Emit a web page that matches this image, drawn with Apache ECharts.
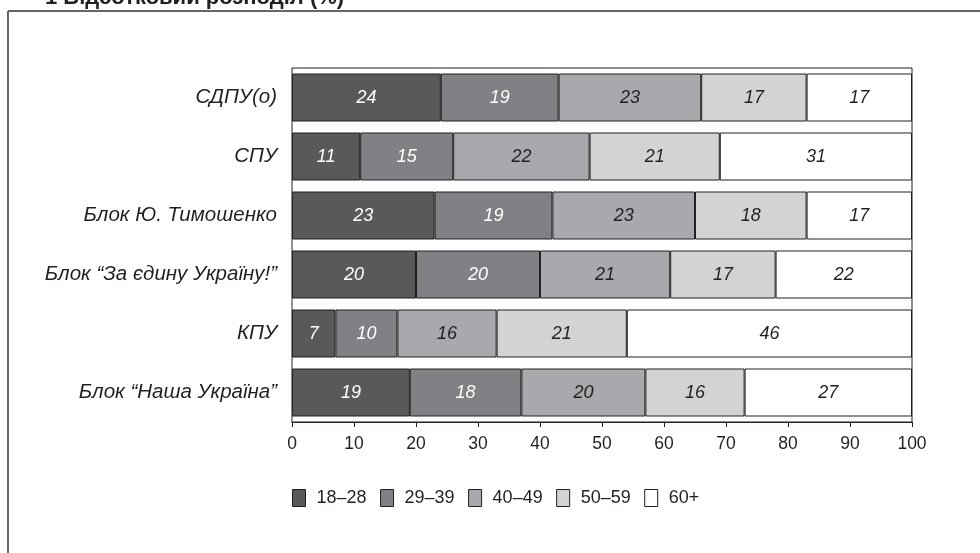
<!DOCTYPE html>
<html><head><meta charset="utf-8">
<script src="https://cdn.jsdelivr.net/npm/echarts@6/dist/echarts.min.js"></script>
<style>html,body{margin:0;padding:0;background:#fff}#c{width:980px;height:553px}</style>
</head><body><div id="c"></div>
<script>
var categories = ['СДПУ(о)', 'СПУ', 'Блок Ю. Тимошенко', 'Блок “За єдину Україну!”', 'КПУ', 'Блок “Наша Україна”'];
var seriesNames = ['18–28', '29–39', '40–49', '50–59', '60+'];
var age18_28 = [24, 11, 23, 20, 7, 19];
var age29_39 = [19, 15, 19, 20, 10, 18];
var age40_49 = [23, 22, 23, 21, 16, 20];
var age50_59 = [17, 21, 18, 17, 21, 16];
var age60p   = [17, 31, 17, 22, 46, 27];
var colors = ['#58595b', '#808184', '#a7a9ac', '#d1d3d4', '#ffffff'];
var labelColors = ['#ffffff', '#ffffff', '#231f20', '#231f20', '#231f20'];
var values = [age18_28, age29_39, age40_49, age50_59, age60p];

var chart = echarts.init(document.getElementById('c'));
var font = '"Liberation Sans", Arial, sans-serif';
chart.setOption({
  animation: false,
  textStyle: { fontFamily: font },
  graphic: [
    { type: 'text', left: 45, top: -13, z: 1, style: { text: '1 Відсотковий розподіл (%)', fontSize: 22, fontWeight: 'bold', fontFamily: font, fill: '#231f20' } },
    { type: 'rect', left: 0, top: 12, z: 2, shape: { width: 980, height: 2 }, style: { fill: '#fff' } },
    { type: 'line', z: 3, shape: { x1: 8, y1: 11, x2: 980, y2: 11 }, style: { stroke: '#666', lineWidth: 2 } },
    { type: 'line', z: 3, shape: { x1: 8, y1: 11, x2: 8, y2: 553 }, style: { stroke: '#666', lineWidth: 2 } }
  ],
  grid: { left: 292, right: 68, top: 68, bottom: 131, show: true, borderColor: '#231f20', borderWidth: 1, outerBoundsMode: 'none' },
  legend: {
    top: 484, left: 287,
    itemWidth: 13, itemHeight: 17, itemGap: 13.5,
    icon: 'rect',
    textStyle: { fontSize: 18, color: '#231f20', fontFamily: font, padding: [0, 0, 0, 6] },
    itemStyle: { borderColor: '#231f20', borderWidth: 1 },
    data: seriesNames
  },
  xAxis: {
    type: 'value', min: 0, max: 100, interval: 10,
    axisLine: { show: true, lineStyle: { color: '#231f20' } },
    axisTick: { show: true, length: 5, lineStyle: { color: '#231f20' } },
    splitLine: { show: false },
    axisLabel: { fontSize: 17.5, color: '#231f20', margin: 13, fontFamily: font }
  },
  yAxis: {
    type: 'category', data: categories, inverse: true,
    axisLine: { show: false }, axisTick: { show: false },
    axisLabel: { fontSize: 20.5, fontStyle: 'italic', color: '#231f20', margin: 15, fontFamily: font }
  },
  series: values.map(function (v, i) {
    return {
      name: seriesNames[i], type: 'bar', stack: 'all', data: v, barWidth: 48,
      itemStyle: { color: colors[i], borderColor: '#231f20', borderWidth: 1 },
      label: { show: true, position: 'inside', fontSize: 18, fontStyle: 'italic', color: labelColors[i], fontFamily: font }
    };
  })
});
</script></body></html>
